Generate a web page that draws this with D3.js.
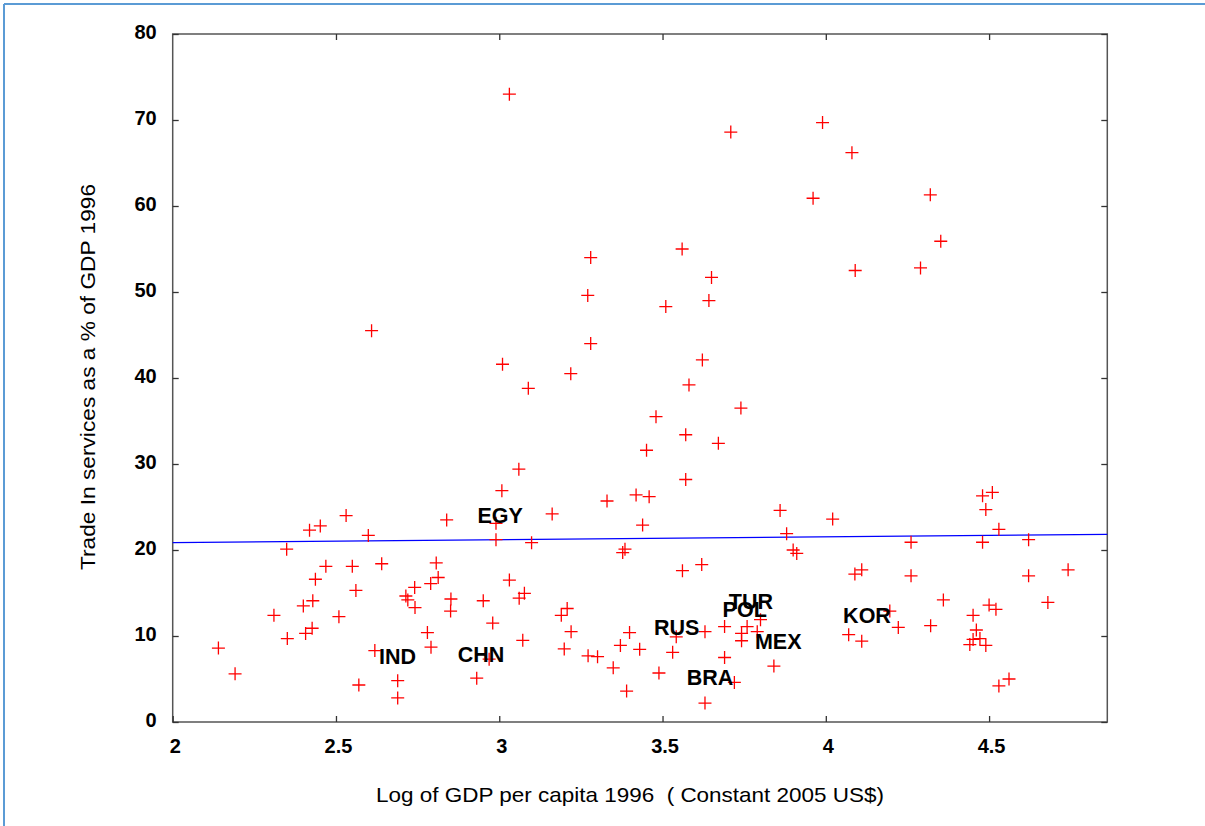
<!DOCTYPE html>
<html>
<head>
<meta charset="utf-8">
<script src="https://cdn.jsdelivr.net/npm/d3@7"></script>
<style>
  html, body { margin: 0; padding: 0; background: #fff; }
  svg { display: block; font-family: "Liberation Sans", Arial, sans-serif; }
  .tick text { font-weight: bold; font-size: 20px; fill: #000; }
  .axis path { display: none; }
  .axis line { stroke: #333; stroke-width: 1.3; }
  .title { white-space: pre; }
</style>
</head>
<body>
<svg id="chart" width="1205" height="826"></svg>
<script>
// log of GDP per capita 1996 (x) and trade in services as % of GDP (y)
const gdpLog = [
  3.031, 2.609, 3.010, 3.709, 3.990, 4.080, 3.961, 4.320, 4.352, 4.290,
  4.090, 3.280, 3.560, 3.650, 3.271, 3.510, 3.642, 3.280, 3.622, 3.219,
  3.581, 3.740, 3.480, 3.571, 3.671, 3.451, 3.571, 3.330, 3.419, 3.459,
  3.162, 3.439, 3.860, 4.021, 3.880, 3.385, 3.378, 3.900, 3.911, 4.261,
  3.561, 3.620, 4.110, 4.089, 4.261, 4.360, 3.208, 3.190, 3.220, 3.199,
  3.272, 3.301, 3.399, 3.371, 3.430, 3.349, 3.390, 3.489, 3.531, 3.542,
  3.630, 3.690, 3.690, 3.630, 3.720, 3.742, 3.742, 3.759, 3.790, 3.800,
  3.841, 4.070, 4.110, 4.196, 4.222, 4.321, 4.480, 4.510, 4.490, 4.530,
  4.480, 4.621, 4.621, 4.742, 4.680, 4.500, 4.521, 4.451, 4.461, 4.451,
  4.472, 4.441, 4.490, 4.561, 4.530, 3.089, 3.060, 3.008, 2.990, 2.990,
  3.099, 2.839, 2.531, 2.419, 2.452, 2.599, 2.349, 2.469, 2.550, 2.640,
  2.807, 2.437, 2.561, 2.813, 2.790, 2.741, 2.714, 2.720, 2.742, 2.429,
  2.400, 2.310, 2.509, 2.852, 2.851, 2.951, 3.031, 3.077, 3.061, 2.980,
  3.072, 2.427, 2.407, 2.351, 2.780, 2.791, 2.140, 2.191, 2.619, 2.570,
  2.689, 2.689, 2.969, 2.931
];
const servicesPct = [
  73.0, 45.5, 41.6, 68.6, 69.7, 66.2, 60.9, 61.3, 55.9, 52.8,
  52.5, 54.0, 55.0, 51.7, 49.6, 48.3, 49.0, 44.0, 42.1, 40.5,
  39.2, 36.5, 35.5, 33.4, 32.4, 31.6, 28.2, 25.7, 26.4, 26.2,
  24.2, 22.9, 24.6, 23.6, 21.9, 20.1, 19.7, 20.0, 19.6, 20.9,
  17.6, 18.3, 17.7, 17.2, 17.0, 14.2, 13.2, 12.4, 10.5, 8.5,
  7.7, 7.6, 10.4, 8.9, 8.45, 6.3, 3.6, 5.7, 8.1, 9.9,
  10.5, 11.1, 7.5, 2.2, 4.6, 10.3, 9.45, 11.1, 10.5, 11.9,
  6.5, 10.15, 9.4, 12.9, 11.0, 11.2, 26.3, 26.7, 24.7, 22.4,
  20.9, 21.2, 17.0, 17.7, 13.9, 13.6, 13.1, 12.4, 10.7, 9.6,
  9.7, 9.0, 8.9, 5.0, 4.2, 38.8, 29.4, 26.9, 23.1, 21.2,
  20.85, 23.5, 24.0, 22.3, 22.8, 21.7, 20.1, 18.1, 18.1, 18.4,
  18.5, 16.6, 15.3, 16.8, 16.1, 15.65, 14.65, 14.2, 13.3, 14.1,
  13.5, 12.4, 12.25, 14.3, 12.9, 14.1, 16.5, 14.96, 14.4, 11.5,
  9.5, 10.9, 10.3, 9.7, 10.4, 8.7, 8.6, 5.6, 8.3, 4.3,
  4.8, 2.8, 7.3, 5.1
];

// fitted line (two end points)
const fitX = [2, 4.862];
const fitY = [20.85, 21.82];

// country labels: code, left edge x, baseline y (data units)
const labelCodes = ["EGY", "IND", "CHN", "RUS", "TUR", "POL", "MEX", "KOR", "BRA"];
const labelX = [2.933, 2.632, 2.873, 3.474, 3.703, 3.684, 3.783, 4.053, 3.574];
const labelY = [23.1, 6.7, 6.94, 10.1, 13.1, 12.24, 8.52, 11.48, 4.3];

const xTicks = [2, 2.5, 3, 3.5, 4, 4.5];
const yTicks = [0, 10, 20, 30, 40, 50, 60, 70, 80];

const svg = d3.select("#chart");
const width = +svg.attr("width");
const height = +svg.attr("height");

const margin = { left: 172.7, top: 34, right: width - 1107.3, bottom: height - 722 };

const x = d3.scaleLinear()
  .domain([2, 4.862])
  .range([margin.left, width - margin.right]);
const y = d3.scaleLinear()
  .domain([0, 80])
  .range([height - margin.bottom, margin.top]);

// blue page border (top and left)
svg.append("line")
  .attr("x1", 4).attr("y1", 4).attr("x2", width).attr("y2", 4)
  .attr("stroke", "#5b9bd5").attr("stroke-width", 2);
svg.append("line")
  .attr("x1", 4).attr("y1", 4).attr("x2", 4).attr("y2", height)
  .attr("stroke", "#5b9bd5").attr("stroke-width", 2);

// frame
svg.append("rect")
  .attr("x", x(2)).attr("y", y(80))
  .attr("width", x(4.862) - x(2)).attr("height", y(0) - y(80))
  .attr("fill", "none")
  .attr("stroke", "#555")
  .attr("stroke-width", 1.5);

// axes, ticks pointing in
svg.append("g")
  .attr("class", "axis")
  .attr("transform", `translate(0,${y(0)})`)
  .call(d3.axisBottom(x).tickValues(xTicks).tickSize(-6).tickPadding(17).tickFormat(d3.format("")))
  .selectAll("text").attr("dx", 2);

svg.append("g")
  .attr("class", "axis")
  .attr("transform", `translate(0,${y(80)})`)
  .call(d3.axisTop(x).tickValues(xTicks.slice(1)).tickSize(-6).tickFormat(""));

svg.append("g")
  .attr("class", "axis")
  .attr("transform", `translate(${x(2)},0)`)
  .call(d3.axisLeft(y).tickValues(yTicks).tickSize(-6).tickPadding(16))
  .selectAll("text").attr("dy", "0.22em");

svg.append("g")
  .attr("class", "axis")
  .attr("transform", `translate(${x(4.862)},0)`)
  .call(d3.axisRight(y).tickValues(yTicks).tickSize(-6).tickFormat(""));

// fitted line
svg.append("line")
  .attr("x1", x(fitX[0])).attr("y1", y(fitY[0]))
  .attr("x2", x(fitX[1])).attr("y2", y(fitY[1]))
  .attr("stroke", "#0000ff")
  .attr("stroke-width", 1.2);

// plus markers
const arm = 6.5;
const points = gdpLog.map((g, i) => ({ g: g, s: servicesPct[i] }));
svg.append("g")
  .selectAll("path")
  .data(points)
  .enter()
  .append("path")
  .attr("d", d => {
    const cx = x(d.g), cy = y(d.s);
    return `M${cx - arm},${cy}H${cx + arm}M${cx},${cy - arm}V${cy + arm}`;
  })
  .attr("stroke", "#ff0000")
  .attr("stroke-width", 1.3)
  .attr("fill", "none");

// country labels
svg.append("g")
  .selectAll("text")
  .data(labelCodes)
  .enter()
  .append("text")
  .attr("x", (d, i) => x(labelX[i]))
  .attr("y", (d, i) => y(labelY[i]))
  .attr("font-size", "21.5px")
  .attr("font-weight", "bold")
  .attr("fill", "#000")
  .text(d => d);

// axis titles
svg.append("text")
  .attr("class", "title")
  .attr("x", 630)
  .attr("y", 802)
  .attr("text-anchor", "middle")
  .attr("font-size", "21px")
  .attr("textLength", 508)
  .attr("lengthAdjust", "spacingAndGlyphs")
  .attr("fill", "#000")
  .text("Log of GDP per capita 1996  ( Constant 2005 US$)");

svg.append("text")
  .attr("class", "title")
  .attr("transform", "translate(95,377) rotate(-90)")
  .attr("text-anchor", "middle")
  .attr("font-size", "21px")
  .attr("textLength", 386)
  .attr("lengthAdjust", "spacingAndGlyphs")
  .attr("fill", "#000")
  .text("Trade In services as a % of GDP 1996");
</script>
</body>
</html>
